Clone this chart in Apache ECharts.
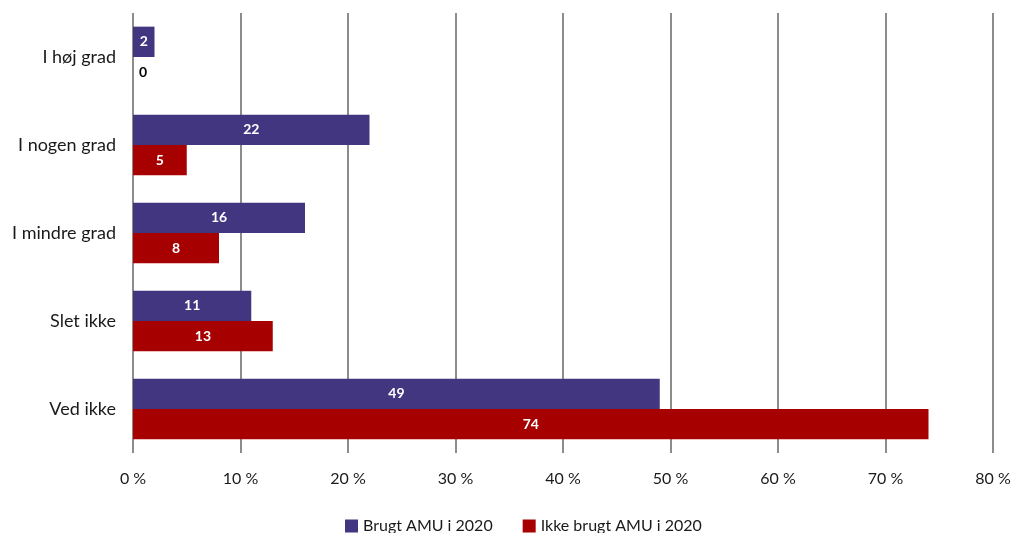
<!DOCTYPE html>
<html>
<head>
<meta charset="utf-8">
<script src="https://cdn.jsdelivr.net/npm/echarts@6/dist/echarts.min.js"></script>
<style>
html,body{margin:0;padding:0;background:#fff;}
#main{width:1015px;height:533px;}
</style>
</head>
<body>
<div id="main"></div>
<script>
var categories = ['I høj grad', 'I nogen grad', 'I mindre grad', 'Slet ikke', 'Ved ikke'];
var brugtData = [2, 22, 16, 11, 49];
var ikkeBrugtData = [0, 5, 8, 13, 74];
var seriesNames = ['Brugt AMU i 2020', 'Ikke brugt AMU i 2020'];

var myChart = echarts.init(document.getElementById('main'));
var fontName = 'Lato';

// nul-værdier vises uden for søjlen i sort
function toData(arr){
    return arr.map(function(v){
        if(v === 0){
            return {value: v, label: {position: 'right', color: '#000', distance: 6}};
        }
        return v;
    });
}

var option = {
    animation: false,
    textStyle: {fontFamily: fontName},
    grid: {left: 133, right: 22, top: 13, bottom: 80},
    legend: {
        bottom: -6,
        left: 340,
        icon: 'rect',
        itemWidth: 13,
        itemHeight: 13,
        itemGap: 30,
        textStyle: {fontSize: 16, color: '#1a1a1a', fontFamily: fontName},
        data: seriesNames
    },
    xAxis: {
        type: 'value',
        min: 0,
        max: 80,
        interval: 10,
        axisLine: {show: false},
        axisTick: {show: false},
        axisLabel: {formatter: '{value} %', fontSize: 16, color: '#1a1a1a', margin: 18},
        splitLine: {lineStyle: {color: '#8c8c8c', width: 2}}
    },
    yAxis: {
        type: 'category',
        inverse: true,
        data: categories,
        axisLine: {show: false},
        axisTick: {show: false},
        axisLabel: {fontSize: 18, color: '#1a1a1a', margin: 17}
    },
    series: [
        {
            name: seriesNames[0],
            type: 'bar',
            data: toData(brugtData),
            barGap: '0%',
            barCategoryGap: '31%',
            itemStyle: {color: '#433681'},
            label: {show: true, position: 'inside', color: '#fff', fontWeight: 'bold', fontSize: 14}
        },
        {
            name: seriesNames[1],
            type: 'bar',
            data: toData(ikkeBrugtData),
            barGap: '0%',
            barCategoryGap: '31%',
            itemStyle: {color: '#a60000'},
            label: {show: true, position: 'inside', color: '#fff', fontWeight: 'bold', fontSize: 14}
        }
    ]
};
myChart.setOption(option);
</script>
</body>
</html>
